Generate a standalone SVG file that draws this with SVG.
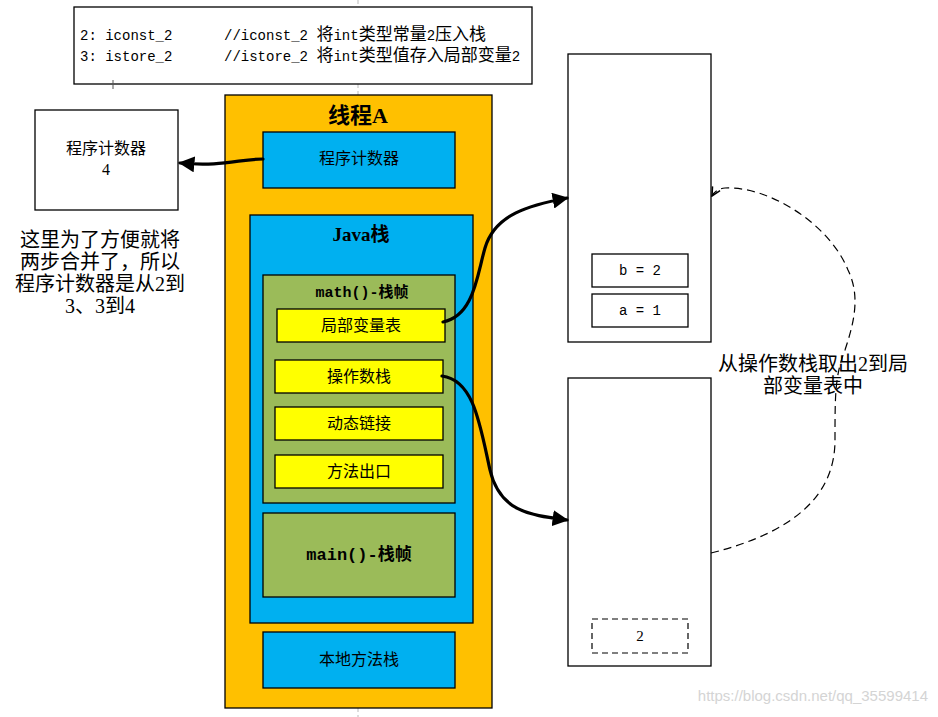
<svg xmlns="http://www.w3.org/2000/svg" width="938" height="717" viewBox="0 0 938 717">
<style>
.box{stroke:#000;stroke-width:1.3}
.cn{font-family:"Liberation Serif","Noto Sans CJK SC",serif;fill:#000}
.mono{font-family:"Liberation Mono","Noto Sans CJK SC",monospace;fill:#000}
.thick{fill:none;stroke:#000;stroke-width:3.2;stroke-linecap:round}
.dash{fill:none;stroke:#000;stroke-width:1.2;stroke-dasharray:8,5}
.guide{stroke:#bbb;stroke-width:1;stroke-dasharray:4,3}
.w{font-size:17px}
</style>
<defs>
<marker id="fill" viewBox="0 0 10 10" refX="9" refY="5" markerWidth="5" markerHeight="5" orient="auto" markerUnits="strokeWidth">
<path d="M0,0 L10,5 L0,10 z" fill="#000"/>
</marker>
<marker id="open" viewBox="0 0 10 10" refX="9" refY="5" markerWidth="9" markerHeight="9" orient="auto" markerUnits="strokeWidth">
<path d="M1,1 L9,5 L1,9" fill="none" stroke="#000" stroke-width="1.4"/>
</marker>
</defs>
<rect width="938" height="717" fill="#fff"/>
<line class="guide" x1="358" y1="0" x2="358" y2="7"/>
<line class="guide" x1="358" y1="84" x2="358" y2="95"/>
<line class="guide" x1="358" y1="708" x2="358" y2="717"/>
<g id="code">
<rect x="74" y="7" width="458" height="77" fill="#fff" class="box"/>
<text class="mono" font-size="14" x="80" y="40">2: iconst_2</text>
<text class="mono" font-size="14" x="224" y="40">//iconst_2 <tspan class="w">将</tspan>int<tspan class="w">类型常量</tspan>2<tspan class="w">压入栈</tspan></text>
<text class="mono" font-size="14" x="80" y="61">3: istore_2</text>
<text class="mono" font-size="14" x="224" y="61">//istore_2 <tspan class="w">将</tspan>int<tspan class="w">类型值存入局部变量</tspan>2</text>
<line x1="113" y1="80" x2="113" y2="89" stroke="#555" stroke-width="1"/>
</g>
<g id="threadA">
<rect x="225" y="95" width="267" height="613" fill="#FFC000" class="box"/>
<text class="cn" font-size="22" font-weight="bold" x="358" y="123" text-anchor="middle">线程A</text>
</g>
<g id="pc">
<rect x="263" y="132" width="192" height="56" fill="#00B0F0" class="box"/>
<text class="cn" font-size="16" x="359" y="164" text-anchor="middle">程序计数器</text>
</g>
<g id="javaStack">
<rect x="250" y="215" width="223" height="408" fill="#00B0F0" class="box"/>
<text class="cn" font-size="19" font-weight="bold" x="361" y="241" text-anchor="middle">Java栈</text>
</g>
<g id="mathFrame">
<rect x="263" y="275" width="192" height="228" fill="#9BBB59" class="box"/>
<text class="mono" font-size="15" font-weight="bold" x="362" y="297" text-anchor="middle">math()-栈帧</text>
</g>
<g id="localVars">
<rect x="277" y="309" width="168" height="33" fill="#FFFF00" class="box"/>
<text class="cn" font-size="16" x="361" y="331" text-anchor="middle">局部变量表</text>
</g>
<g id="operandStack">
<rect x="275" y="360" width="168" height="33" fill="#FFFF00" class="box"/>
<text class="cn" font-size="16" x="359" y="382" text-anchor="middle">操作数栈</text>
</g>
<g id="dynLink">
<rect x="275" y="407" width="168" height="33" fill="#FFFF00" class="box"/>
<text class="cn" font-size="16" x="359" y="429" text-anchor="middle">动态链接</text>
</g>
<g id="methodExit">
<rect x="275" y="455" width="168" height="33" fill="#FFFF00" class="box"/>
<text class="cn" font-size="16" x="359" y="477" text-anchor="middle">方法出口</text>
</g>
<g id="mainFrame">
<rect x="263" y="513" width="192" height="84" fill="#9BBB59" class="box"/>
<text class="mono" font-size="17" font-weight="bold" x="359" y="560" text-anchor="middle">main()-栈帧</text>
</g>
<g id="nativeStack">
<rect x="263" y="632" width="192" height="56" fill="#00B0F0" class="box"/>
<text class="cn" font-size="16" x="359" y="665" text-anchor="middle">本地方法栈</text>
</g>
<g id="pcValue">
<rect x="35" y="110" width="143" height="100" fill="#fff" class="box"/>
<text class="cn" font-size="16" x="106" y="154" text-anchor="middle">程序计数器</text>
<text class="cn" font-size="16" x="106" y="175" text-anchor="middle">4</text>
</g>
<g id="note">
<text class="cn" font-size="20" x="100" y="247" text-anchor="middle">这里为了方便就将</text>
<text class="cn" font-size="20" x="100" y="269" text-anchor="middle">两步合并了，所以</text>
<text class="cn" font-size="20" x="100" y="291" text-anchor="middle">程序计数器是从2到</text>
<text class="cn" font-size="20" x="100" y="313" text-anchor="middle">3、3到4</text>
</g>
<g id="localVarTable">
<rect x="568" y="54" width="143" height="288" fill="#fff" class="box"/>
<rect x="592" y="254" width="96" height="33" fill="#fff" class="box"/>
<text class="mono" font-size="14" x="640" y="275" text-anchor="middle">b = 2</text>
<rect x="592" y="294" width="96" height="33" fill="#fff" class="box"/>
<text class="mono" font-size="14" x="640" y="315" text-anchor="middle">a = 1</text>
</g>
<g id="operandStackView">
<rect x="568" y="378" width="143" height="288" fill="#fff" class="box"/>
<rect x="592" y="619" width="96" height="34" fill="#fff" stroke="#000" stroke-width="1.2" stroke-dasharray="6,4"/>
<text class="cn" font-size="15" x="640" y="641" text-anchor="middle">2</text>
</g>
<g id="connectors">
<path class="thick" d="M263,159 C240,159 222,167 180,163" marker-end="url(#fill)"/>
<path class="thick" d="M443,322 C474,316 477,275 485,248 C495,214 530,205 567,198" marker-end="url(#fill)"/>
<path class="thick" d="M442,376 C474,380 480,425 490,470 C500,512 530,515 567,520" marker-end="url(#fill)"/>
<path class="dash" d="M711,553 C795,532 835,495 835,440 C835,395 835,375 845,350 C855,320 860,295 848,270 C830,225 770,186 725,188 Q716,189 712,196" marker-end="url(#open)"/>
</g>
<g id="label">
<text class="cn" font-size="20" x="813" y="371" text-anchor="middle">从操作数栈取出2到局</text>
<text class="cn" font-size="20" x="813" y="393" text-anchor="middle">部变量表中</text>
</g>
<text x="928" y="701" text-anchor="end" font-family="Liberation Sans,Arial,sans-serif" font-size="15" fill="#d4d4d4">https://blog.csdn.net/qq_35599414</text>
</svg>
